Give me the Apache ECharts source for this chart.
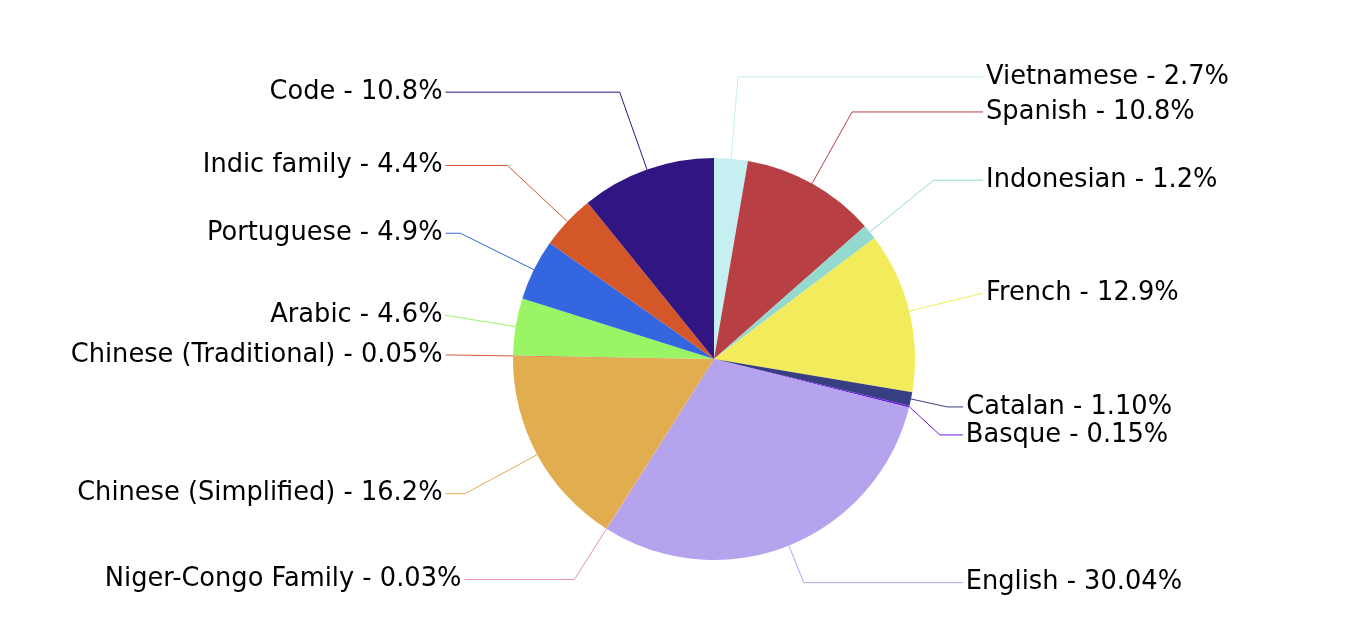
<!DOCTYPE html>
<html>
<head>
<meta charset="utf-8">
<script src="https://cdn.jsdelivr.net/npm/echarts@6/dist/echarts.min.js"></script>
<style>
html,body{margin:0;padding:0;background:#fff;}
#chart{width:1364px;height:644px;}
</style>
</head>
<body>
<div id="chart"></div>
<script>
const categories = ["Vietnamese","Spanish","Indonesian","French","Catalan","Basque","English","Niger-Congo Family","Chinese (Simplified)","Chinese (Traditional)","Arabic","Portuguese","Indic family","Code"];
const values = [2.7,10.8,1.2,12.9,1.10,0.15,30.04,0.03,16.2,0.05,4.6,4.9,4.4,10.8];
const decimals = [1,1,1,1,2,2,2,2,1,2,1,1,1,1];
const colors = ["#c5eff0","#b83f44","#94d9cf","#f2eb5c","#383e82","#6a1de0","#b5a3ee","#e88fb0","#e2ad4f","#d45a3a","#9af564","#3466e0","#d4572a","#311582"];

// style only: leader-line lengths / alignment overrides per label
const leaderStyle = {
  "French":{length:76},
  "Catalan":{length:40,length2:16,align:'none'},
  "Basque":{length:40,length2:23,align:'none'},
  "English":{length:40,length2:159,align:'none'},
  "Niger-Congo Family":{length:60,length2:110,align:'none'},
  "Chinese (Traditional)":{length:67},
  "Arabic":{length:71}
};

const chart = echarts.init(document.getElementById('chart'), null, {renderer:'canvas'});
chart.setOption({
  animation:false,
  backgroundColor:'#ffffff',
  series:[{
    type:'pie',
    left:0, top:0, right:0, bottom:0,
    center:[714,359],
    radius:201,
    startAngle:90,
    clockwise:true,
    avoidLabelOverlap:true,
    itemStyle:{borderWidth:0},
    label:{
      show:true,
      color:'#000',
      fontFamily:'DejaVu Sans',
      fontSize:25.7,
      lineHeight:24,
      alignTo:'labelLine',
      distanceToLabelLine:3,
      formatter:p=>p.name+' - '+p.value.toFixed(decimals[p.dataIndex])+'%'
    },
    labelLine:{show:true,length:82,length2:0,lineStyle:{width:1}},
    data:categories.map((c,i)=>{
      const s = leaderStyle[c] || {};
      return {
        name:c,value:values[i],
        itemStyle:{color:colors[i]},
        label:{alignTo: s.align || 'labelLine'},
        labelLine:{length: s.length != null ? s.length : 82, length2: s.length2 || 0}
      };
    })
  }]
});
</script>
</body>
</html>
